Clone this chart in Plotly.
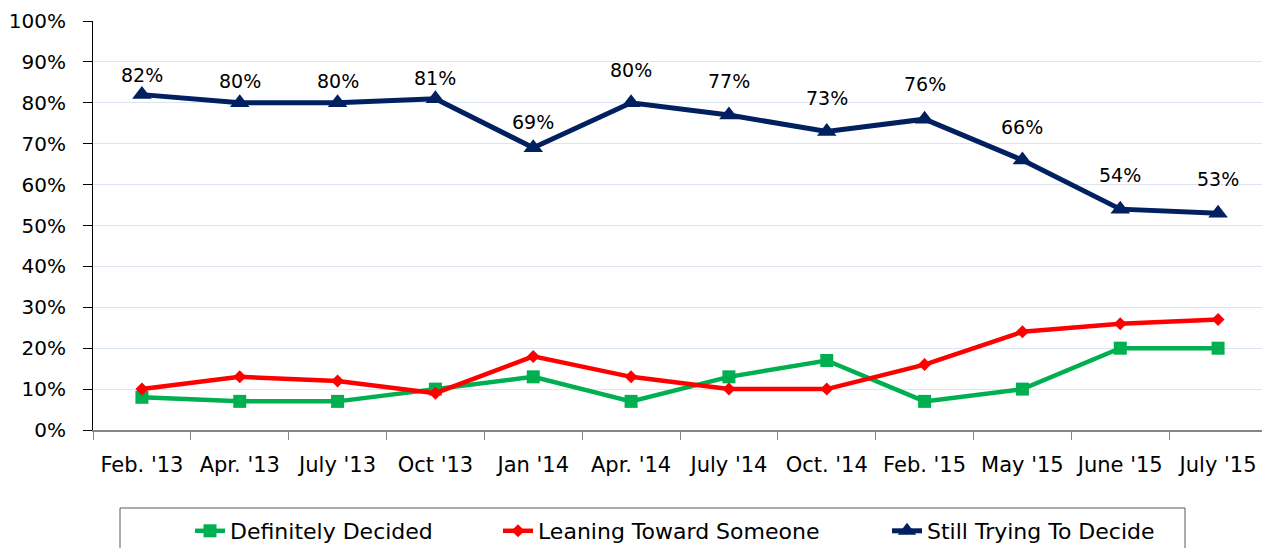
import plotly.graph_objects as go

categories = ["Feb. '13", "Apr. '13", "July '13", "Oct '13", "Jan '14", "Apr. '14",
              "July '14", "Oct. '14", "Feb. '15", "May '15", "June '15", "July '15"]
definitely_decided = [8, 7, 7, 10, 13, 7, 13, 17, 7, 10, 20, 20]
leaning_toward = [10, 13, 12, 9, 18, 13, 10, 10, 16, 24, 26, 27]
still_trying = [82, 80, 80, 81, 69, 80, 77, 73, 76, 66, 54, 53]
y_ticks = [0, 10, 20, 30, 40, 50, 60, 70, 80, 90, 100]
y_tick_labels = [f"{v}%" for v in y_ticks]

# label offsets (style only)
label_shift = [20, 22, 22, 21, 26, 33, 34, 33, 35, 33, 34, 34]

FONT = "DejaVu Sans"
GREEN = "#00B050"
RED = "#FF0000"
NAVY = "#002060"

OFF = 8  # browser default body margin
W, H = 1270 - OFF, 548 - OFF
# plot area in page pixels: left 93, right 1267, top 21, bottom 430
L, R, T, B = 93 - OFF, 3, 21 - OFF, 118
PW, PH = W - L - R, H - T - B


def px_x(p):
    return (p - OFF - L) / PW


def px_y(p):
    return (H - B - (p - OFF)) / PH


fig = go.Figure()
fig.add_trace(go.Scatter(
    x=categories, y=definitely_decided, name="Definitely Decided", mode="lines+markers",
    line=dict(color=GREEN, width=4.5), marker=dict(symbol="square", size=13, color=GREEN),
    legend="legend", showlegend=True))
fig.add_trace(go.Scatter(
    x=categories, y=leaning_toward, name="Leaning Toward Someone", mode="lines+markers",
    line=dict(color=RED, width=4.5), marker=dict(symbol="diamond", size=10, color=RED),
    legend="legend2", showlegend=True))
fig.add_trace(go.Scatter(
    x=categories, y=still_trying, name="Still Trying To Decide", mode="lines+markers",
    line=dict(color=NAVY, width=5), marker=dict(symbol="triangle-up", size=17, color=NAVY),
    legend="legend3", showlegend=True))

for c, v, s in zip(categories, still_trying, label_shift):
    fig.add_annotation(x=c, y=v, text=f"{v}%", showarrow=False, yshift=s,
                       font=dict(family=FONT, size=19, color="#000000"))

leg_common = dict(orientation="h", yanchor="middle", y=px_y(531), xanchor="left",
                  font=dict(family=FONT, size=22, color="#000000"),
                  bgcolor="rgba(0,0,0,0)", borderwidth=0)

fig.update_layout(
    width=W, height=H,
    margin=dict(l=L, r=R, t=T, b=B, autoexpand=False),
    paper_bgcolor="white", plot_bgcolor="white",
    font=dict(family=FONT, color="#000000"),
    showlegend=True,
    legend=dict(x=px_x(230 - 40), **leg_common),
    legend2=dict(x=px_x(538 - 40), **leg_common),
    legend3=dict(x=px_x(927 - 40), **leg_common),
    xaxis=dict(
        type="category", categoryorder="array", categoryarray=categories,
        range=[-0.5, len(categories) - 0.5],
        showline=True, linecolor="#868686", linewidth=2,
        ticks="outside", ticklen=8, tickcolor="#868686", tickwidth=1,
        tickson="boundaries", showgrid=False, automargin=False,
        tickfont=dict(family=FONT, size=21, color="#000000"),
        ticklabelstandoff=15,
    ),
    yaxis=dict(
        range=[0, 100], tickvals=y_ticks, ticktext=y_tick_labels,
        showline=True, linecolor="#000000", linewidth=1,
        ticks="outside", ticklen=9, tickcolor="#000000",
        showgrid=True, gridcolor="#DCE6F2", gridwidth=1,
        zeroline=False, automargin=False,
        tickfont=dict(family=FONT, size=20, color="#000000"),
        ticklabelstandoff=13,
    ),
    shapes=[dict(type="rect", xref="paper", yref="paper",
                 x0=px_x(120), x1=px_x(1185), y0=px_y(508), y1=px_y(570),
                 line=dict(color="#595959", width=1), fillcolor="rgba(0,0,0,0)")],
)

fig.write_html("out.html")
